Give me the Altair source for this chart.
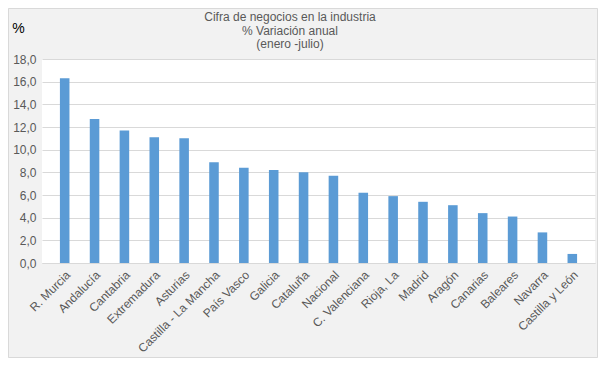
import altair as alt
import pandas as pd

regions = ["R. Murcia", "Andalucía", "Cantabria", "Extremadura", "Asturias",
           "Castilla - La Mancha", "País Vasco", "Galicia", "Cataluña", "Nacional",
           "C. Valenciana", "Rioja, La", "Madrid", "Aragón", "Canarias", "Baleares",
           "Navarra", "Castilla y León"]
values = [16.3, 12.7, 11.7, 11.1, 11.0, 8.9, 8.4, 8.2, 8.0, 7.7,
          6.2, 5.9, 5.4, 5.1, 4.4, 4.1, 2.7, 0.8]
y_ticks = [0, 2, 4, 6, 8, 10, 12, 14, 16, 18]
title_lines = ["Cifra de negocios en la industria", "% Variación anual", "(enero -julio)"]

df = pd.DataFrame({"region": regions, "valor": values})

FONT = "Liberation Sans"
GREY = "#595959"

bars = alt.Chart(df).mark_bar(color="#5b9bd5").encode(
    x=alt.X("region:N", sort=regions,
            scale=alt.Scale(paddingInner=0.68, paddingOuter=0.6),
            axis=alt.Axis(title=None, labelAngle=-45, labelFontSize=12,
                          labelColor=GREY, labelFont=FONT, ticks=False,
                          domain=True, domainColor="#d9d9d9", labelPadding=6,
                          labelLimit=200)),
    y=alt.Y("valor:Q", scale=alt.Scale(domain=[0, 18], nice=False),
            axis=alt.Axis(values=y_ticks, title="%", titleAngle=0,
                          titleX=-24, titleY=-31, titleAlign="center",
                          titleBaseline="middle", titleFontSize=14,
                          titleFontWeight="normal", titleColor="#000000",
                          titleFont=FONT,
                          labelExpr="replace(format(datum.value, '.1f'), '.', ',')",
                          labelFontSize=12, labelColor=GREY, labelFont=FONT,
                          ticks=False, domain=False, labelPadding=6,
                          gridColor="#d9d9d9")),
)

title_layers = []
for i, line in enumerate(title_lines):
    title_layers.append(
        alt.Chart(df).mark_text(text=line, font=FONT, fontSize=12, color=GREY,
                                align="center", baseline="middle", clip=False).encode(
            x=alt.value(248), y=alt.value(-42 + 13.5 * i)
        ).transform_filter(alt.datum.region == regions[0])
    )

border = alt.Chart(df).mark_rect(fill=None, stroke="#d9d9d9", strokeWidth=1, clip=False).encode(
    x=alt.value(-33.5), x2=alt.value(555.5), y=alt.value(-50.5), y2=alt.value(298.5)
).transform_filter(alt.datum.region == regions[0])

chart = alt.layer(bars, border, *title_layers).properties(
    width=553, height=204,
    autosize=alt.AutoSizeParams(type="none"),
    padding={"left": 34, "top": 51, "right": 3, "bottom": 95},
    background="#f2f2f2",
).configure_view(stroke=None, fill="#ffffff")

chart.save("out.html", embed_options={"renderer": "svg", "actions": False})
